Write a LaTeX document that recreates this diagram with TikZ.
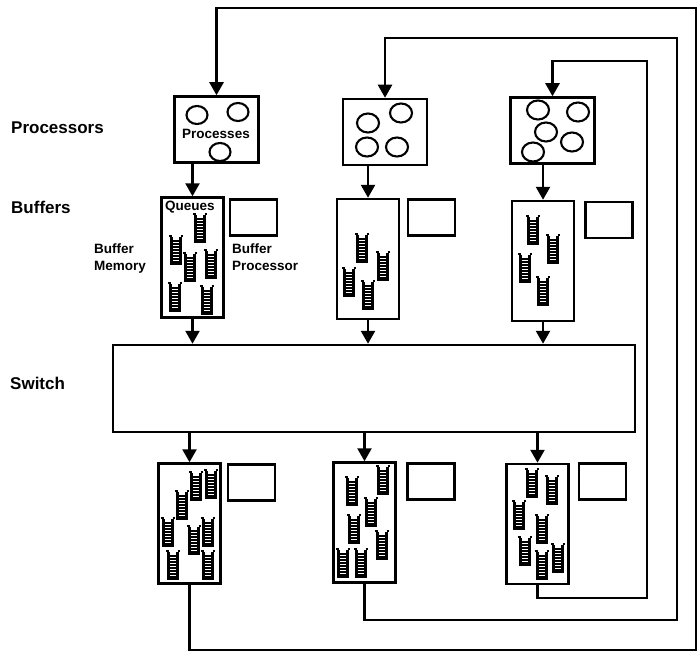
\documentclass[tikz,border=0pt]{standalone}
\usepackage{fontspec}
\setmainfont{Liberation Sans}
\usetikzlibrary{arrows.meta}
\begin{document}
\begin{tikzpicture}[x=1pt,y=-1pt,
  box/.style={draw,line width=2.5pt,inner sep=0pt,rectangle},
  procbox/.style={box,minimum width=84pt,minimum height=66pt},
  bufbox/.style={box,minimum width=62pt,minimum height=120pt},
  bpbox/.style={box,minimum width=47pt,minimum height=36pt},
  arr/.style={line width=2.5pt,-{Triangle[width=14pt,length=13pt]}},
  circ/.style={line width=2.1pt},
  big/.style={font=\fontsize{17}{20}\selectfont\bfseries,anchor=west,inner sep=0pt},
  small/.style={font=\fontsize{13.5}{17}\selectfont\bfseries,inner sep=0pt,align=left},
  queue/.pic={
    \draw[line width=2.4pt] (-4.5,-13) -- (-4.5,14) -- (4.5,14) -- (4.5,-13);
    \draw[line width=1.8pt] (-7,-14) -- (-4.5,-14) (4.5,-14) -- (7,-14);
    \foreach \yy in {-9,-6,...,12} {\draw[line width=1.6pt] (-4.5,\yy) -- (4.5,\yy);}
  }
]
\useasboundingbox (0,0) rectangle (700,655);

% labels
\node[big] (lproc) at (11,128) {Processors};
\node[big] (lbuf) at (11,207) {Buffers};
\node[big] (lsw) at (10,383) {Switch};

% processors
\node[procbox] (P1) at (216.5,129.5) {};
\node[procbox] (P2) at (385,132) {};
\node[procbox] (P3) at (552.5,130.5) {};

\draw[circ] (197,115) ellipse [x radius=10.5, y radius=9];
\draw[circ] (238,112) ellipse [x radius=10.5, y radius=9];
\draw[circ] (220,152) ellipse [x radius=10.5, y radius=9];
\node[small] (procs) at (216,134) {Processes};

\draw[circ] (368,123) ellipse [x radius=11, y radius=9.5];
\draw[circ] (401,113) ellipse [x radius=11, y radius=9.5];
\draw[circ] (367,147) ellipse [x radius=11, y radius=9.5];
\draw[circ] (397,147) ellipse [x radius=11, y radius=9.5];

\draw[circ] (538,110) ellipse [x radius=11, y radius=9.5];
\draw[circ] (578,112) ellipse [x radius=11, y radius=9.5];
\draw[circ] (546,132) ellipse [x radius=11, y radius=9.5];
\draw[circ] (572,142) ellipse [x radius=11, y radius=9.5];
\draw[circ] (533,152) ellipse [x radius=11, y radius=9.5];

% top buffers
\node[bufbox] (B1) at (192.5,257.5) {};
\node[bufbox] (B2) at (368,259) {};
\node[bufbox] (B3) at (543,261) {};
\node[bpbox] (S1) at (253.5,217.5) {};
\node[bpbox] (S2) at (431.5,217.5) {};
\node[bpbox] (S3) at (609,220) {};

\node[small,anchor=north west] (queues) at (165,201) {Queues};
\node[small,anchor=west] (bmem) at (94,259) {Buffer\\Memory};
\node[small,anchor=west] (bproc) at (232,257) {Buffer\\Processor};

\foreach \p in {(200,228),(176,250),(190,267),(211,264),(175,297),(207,300)} {\pic at \p {queue};}
\foreach \p in {(362,248),(383,266),(349,282),(368,295)} {\pic at \p {queue};}
\foreach \p in {(533,230),(553,249),(525,268),(543,291)} {\pic at \p {queue};}

% switch
\node[box,minimum width=522pt,minimum height=87pt] (SW) at (374,388.5) {};

% bottom buffers
\node[bufbox] (C1) at (189.5,523.5) {};
\node[bufbox] (C2) at (364.5,522.5) {};
\node[bufbox] (C3) at (537.5,524) {};
\node[bpbox] (T1) at (251.5,482.5) {};
\node[bpbox] (T2) at (431,481.5) {};
\node[bpbox] (T3) at (602.5,481.5) {};

\foreach \p in {(196,486),(211,484),(182,505),(168,532),(194,540),(208,532),(173,565),(208,565)} {\pic at \p {queue};}
\foreach \p in {(352,491),(383,480),(371,512),(354,529),(382,545),(343,563),(361,563)} {\pic at \p {queue};}
\foreach \p in {(532,483),(552,490),(519,515),(542,529),(525,551),(542,565),(558,558)} {\pic at \p {queue};}

% vertical arrows
\draw[arr] (B1.north |- P1.south) -- (B1.north);
\draw[arr] (B2.north |- P2.south) -- (B2.north);
\draw[arr] (B3.north |- P3.south) -- (B3.north);
\draw[arr] (B1.south) -- (B1.south |- SW.north);
\draw[arr] (B2.south) -- (B2.south |- SW.north);
\draw[arr] (B3.south) -- (B3.south |- SW.north);
\draw[arr] (C1.north |- SW.south) -- (C1.north);
\draw[arr] (C2.north |- SW.south) -- (C2.north);
\draw[arr] (C3.north |- SW.south) -- (C3.north);

% feedback loops
\coordinate (O1) at (696,650);
\coordinate (O2) at (696,8);
\coordinate (M1) at (677,620);
\coordinate (M2) at (677,38);
\coordinate (I1) at (647,598);
\coordinate (I2) at (647,61);
\draw[arr] (C1.south) |- (O1) -- (O2) -| (P1.north);
\draw[arr] (C2.south) |- (M1) -- (M2) -| (P2.north);
\draw[arr] (C3.south) |- (I1) -- (I2) -| (P3.north);
\end{tikzpicture}
\end{document}
